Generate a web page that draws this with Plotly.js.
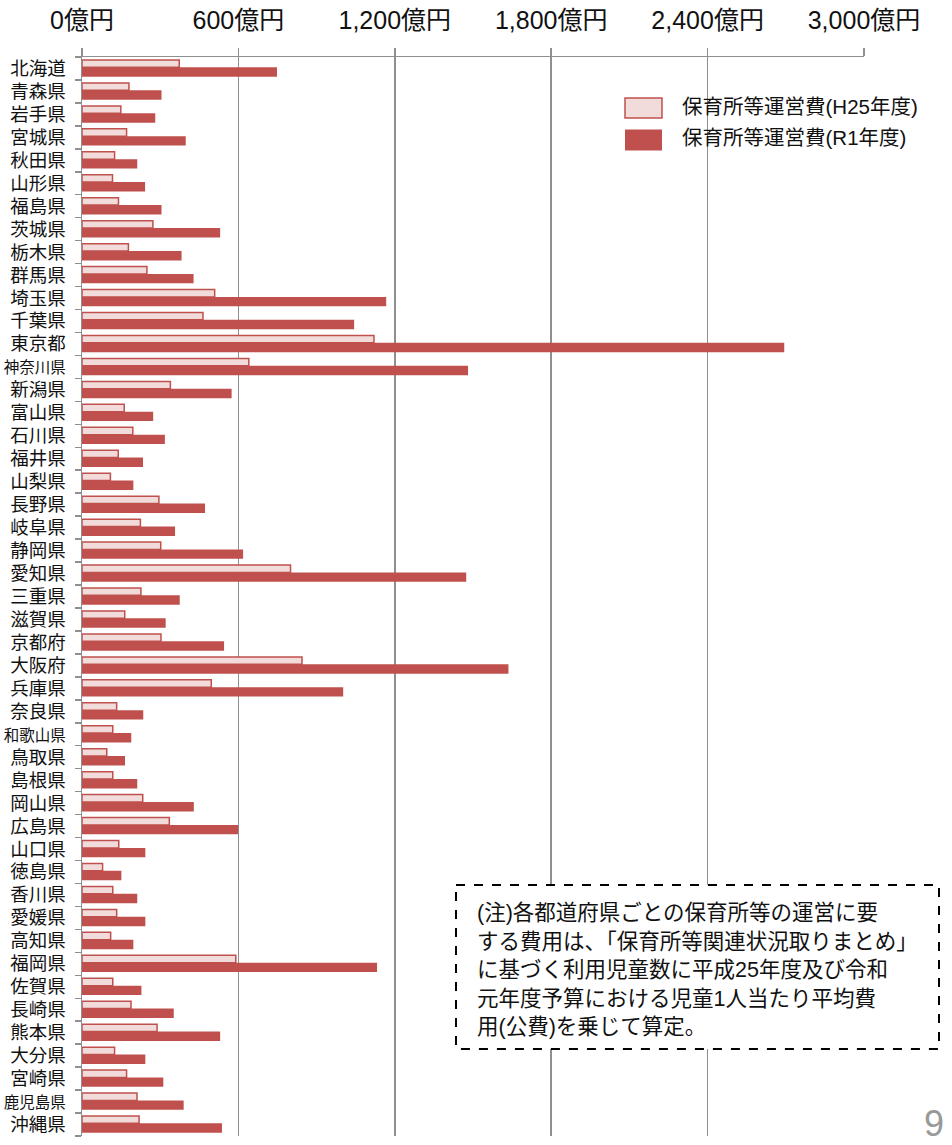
<!DOCTYPE html>
<html>
<head>
<meta charset="utf-8">
<script src="https://cdn.plot.ly/plotly-3.0.1.min.js"></script>
<style>
html,body{margin:0;padding:0;background:#fff;}
#chart{width:952px;height:1145px;}
</style>
</head>
<body>
<div id="chart"></div>
<script>
const prefectures = ["北海道","青森県","岩手県","宮城県","秋田県","山形県","福島県","茨城県","栃木県","群馬県","埼玉県","千葉県","東京都","神奈川県","新潟県","富山県","石川県","福井県","山梨県","長野県","岐阜県","静岡県","愛知県","三重県","滋賀県","京都府","大阪府","兵庫県","奈良県","和歌山県","鳥取県","島根県","岡山県","広島県","山口県","徳島県","香川県","愛媛県","高知県","福岡県","佐賀県","長崎県","熊本県","大分県","宮崎県","鹿児島県","沖縄県"];
const h25 = [373,180,149,171,125,117,140,272,178,249,509,464,1120,640,339,162,195,139,109,295,224,302,800,226,164,303,844,496,133,118,95,118,233,335,141,79,118,133,110,590,118,188,288,125,171,211,219];
const r1 = [748,305,281,398,212,242,305,530,382,428,1167,1044,2694,1481,574,273,318,234,197,472,357,618,1474,375,321,545,1636,1002,235,189,165,212,429,599,243,151,212,243,197,1132,228,352,530,243,312,390,537];
const seriesNames = ["保育所等運営費(H25年度)","保育所等運営費(R1年度)"];
const tickVals = [0,600,1200,1800,2400,3000];
const tickText = ["0億円","600億円","1,200億円","1,800億円","2,400億円","3,000億円"];
const noteLines = [
  "(注)各都道府県ごとの保育所等の運営に要",
  "する費用は、「保育所等関連状況取りまとめ」",
  "に基づく利用児童数に平成25年度及び令和",
  "元年度予算における児童1人当たり平均費",
  "用(公費)を乗じて算定。"
];
const pageNo = "9";

const W = 952, H = 1145;
const L = 82, R = 864, T = 56.5, B = 1136;
const px = x => (x - L) / (R - L);
const py = y => 1 - (y - T) / (B - T);

const RED = "#C0504D";
const PINK = "#F2DCDB";
const GRID = "#8f8f8f";
const FONT = "Liberation Sans, Noto Sans CJK JP, sans-serif";

// long names shrink slightly so they fit inside the page
const yLabels = prefectures.map(p => p.length > 3 ? "<span style='font-size:15.5px'>" + p + "</span>" : p);

const traces = [
  {
    type: "bar", orientation: "h", name: seriesNames[0],
    y: prefectures, x: h25,
    offset: -0.37, width: 0.32,
    marker: {color: PINK, line: {color: RED, width: 1.5}},
    showlegend: false, hoverinfo: "x+y"
  },
  {
    type: "bar", orientation: "h", name: seriesNames[1],
    y: prefectures, x: r1,
    offset: -0.05, width: 0.41,
    marker: {color: RED, line: {color: RED, width: 0}},
    showlegend: false, hoverinfo: "x+y"
  }
];

const shapes = [
  {type:"rect", xref:"paper", yref:"paper", x0:px(625), x1:px(662), y0:py(97.5), y1:py(117.5),
   fillcolor:PINK, line:{color:RED, width:1.5}},
  {type:"rect", xref:"paper", yref:"paper", x0:px(625), x1:px(662), y0:py(129), y1:py(150),
   fillcolor:RED, line:{color:RED, width:0}},
  {type:"rect", xref:"paper", yref:"paper", x0:px(456), x1:px(939), y0:py(885), y1:py(1049),
   fillcolor:"#ffffff", line:{color:"#000", width:2, dash:"dash"}, layer:"above"}
];

const annotations = [
  {xref:"paper", yref:"paper", x:px(680), y:py(106), xanchor:"left", yanchor:"middle",
   text:seriesNames[0], showarrow:false, font:{family:FONT, size:20.5, color:"#111"}},
  {xref:"paper", yref:"paper", x:px(680), y:py(137), xanchor:"left", yanchor:"middle",
   text:seriesNames[1], showarrow:false, font:{family:FONT, size:20.5, color:"#111"}},
  {xref:"paper", yref:"paper", x:px(922), y:py(1146), xanchor:"left", yanchor:"bottom",
   text:pageNo, showarrow:false, font:{family:FONT, size:36, color:"#999"}}
];
const lineY = [913, 941.5, 970, 998.5, 1027];
noteLines.forEach((t, i) => {
  annotations.push({xref:"paper", yref:"paper", x:px(475), y:py(lineY[i]), xanchor:"left", yanchor:"middle",
    text:t, showarrow:false, font:{family:FONT, size:21.5, color:"#111"}});
});

const layout = {
  width: W, height: H,
  margin: {l: L, r: W - R, t: T, b: H - B, pad: 0},
  paper_bgcolor: "#fff", plot_bgcolor: "#fff",
  font: {family: FONT, color: "#111"},
  barmode: "overlay",
  xaxis: {
    side: "top", range: [0, 3000], tickvals: tickVals, ticktext: tickText,
    showgrid: true, gridcolor: GRID, gridwidth: 1.5,
    showline: true, linecolor: GRID, linewidth: 1.5,
    ticks: "outside", ticklen: 8, tickcolor: GRID, tickwidth: 1.5,
    ticklabelstandoff: 9,
    zeroline: false,
    tickfont: {family: FONT, size: 25, color: "#111"}
  },
  yaxis: {
    type: "category", range: [46.5, -0.5], autorange: false,
    tickmode: "array", tickvals: prefectures, ticktext: yLabels,
    showgrid: false, showline: true, linecolor: GRID, linewidth: 1.5,
    ticks: "outside", tickson: "boundaries", ticklen: 6, tickcolor: GRID, tickwidth: 1.5,
    ticklabelstandoff: 11,
    tickfont: {family: FONT, size: 18.5, color: "#111"}
  },
  shapes: shapes,
  annotations: annotations
};

Plotly.newPlot("chart", traces, layout, {displayModeBar: false, staticPlot: true});
</script>
</body>
</html>
